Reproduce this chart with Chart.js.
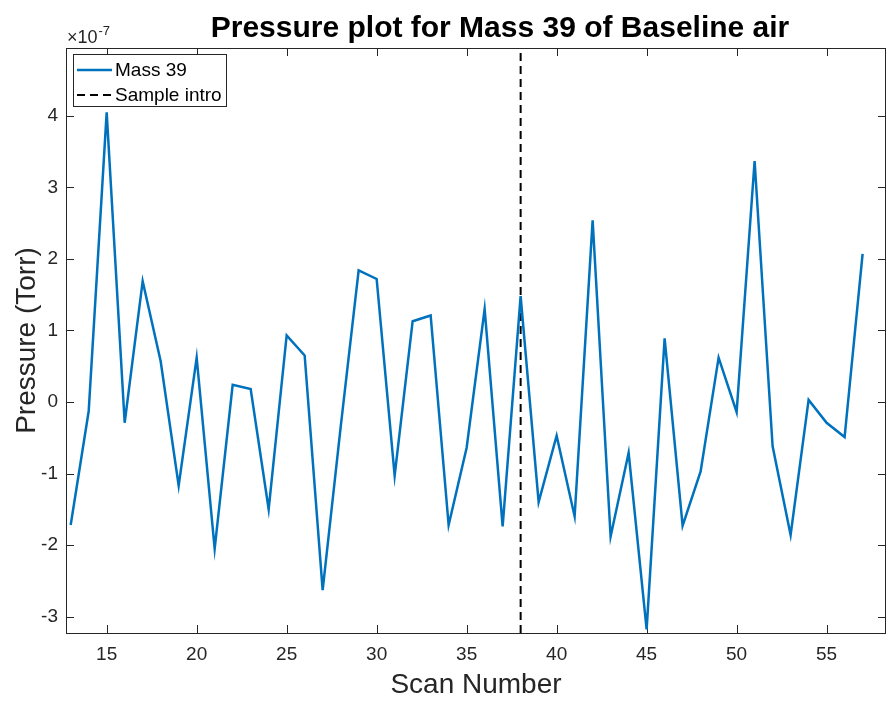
<!DOCTYPE html>
<html>
<head>
<meta charset="utf-8">
<script src="https://cdn.jsdelivr.net/npm/chart.js@4/dist/chart.umd.min.js"></script>
<style>
html,body{margin:0;padding:0;background:#ffffff;}
#wrap{width:888px;height:702px;position:relative;}
canvas{display:block;}
</style>
</head>
<body>
<div id="wrap"><canvas id="c" width="888" height="702"></canvas></div>
<script>
// ---- data (pressure in units of 1e-7 Torr) ----
const scanNumbers = [13,14,15,16,17,18,19,20,21,22,23,24,25,26,27,28,29,30,31,32,33,34,35,
                     36,37,38,39,40,41,42,43,44,45,46,47,48,49,50,51,52,53,54,55,56,57];
const mass39 = [-1.72,-0.13,4.05,-0.29,1.69,0.57,-1.17,0.62,-2.05,0.24,0.18,-1.50,0.93,0.65,-2.63,
                -0.35,1.84,1.72,-1.03,1.13,1.21,-1.72,-0.64,1.30,-1.74,1.48,-1.40,-0.47,-1.60,2.54,
                -1.88,-0.71,-3.18,0.89,-1.73,-0.97,0.62,-0.14,3.37,-0.62,-1.86,0.03,-0.29,-0.49,2.07];
const sampleIntroScan = [38];
const xTickValues = [15,20,25,30,35,40,45,50,55];
const yTickValues = [-3,-2,-1,0,1,2,3,4];
const xLimits = [12.74, 58.3];
const yLimits = [-3.23, 4.95];
const yExponentLabel = '-7';
const seriesLabels = ['Mass 39','Sample intro'];
const chartTitle = 'Pressure plot for Mass 39 of Baseline air';
const xAxisTitle = 'Scan Number';
const yAxisTitle = 'Pressure (Torr)';

const FONT = "'Liberation Sans', Arial, Helvetica, sans-serif";
const AXIS_COLOR = '#262626';
const BLUE = '#0072BD';

const massPoints = scanNumbers.map((x, i) => ({x: x, y: mass39[i]}));
const introPoints = [{x: sampleIntroScan[0], y: yLimits[0]}, {x: sampleIntroScan[0], y: yLimits[1]}];

const boxPlugin = {
  id: 'matlabBox',
  beforeDatasetsDraw(chart) {
    const {ctx, chartArea: a, scales} = chart;
    ctx.save();
    ctx.strokeStyle = AXIS_COLOR;
    ctx.lineWidth = 1;
    ctx.strokeRect(Math.round(a.left) + 0.5, Math.round(a.top) + 0.5,
                   Math.round(a.right - a.left) - 1, Math.round(a.bottom - a.top));
    const tl = 8;
    ctx.beginPath();
    scales.x.ticks.forEach(t => {
      const px = Math.round(scales.x.getPixelForValue(t.value)) + 0.5;
      ctx.moveTo(px, a.bottom); ctx.lineTo(px, a.bottom - tl);
      ctx.moveTo(px, a.top); ctx.lineTo(px, a.top + tl);
    });
    scales.y.ticks.forEach(t => {
      const py = Math.round(scales.y.getPixelForValue(t.value)) + 0.5;
      ctx.moveTo(a.left, py); ctx.lineTo(a.left + tl, py);
      ctx.moveTo(a.right, py); ctx.lineTo(a.right - tl, py);
    });
    ctx.stroke();
    ctx.restore();
  },
  afterDraw(chart) {
    const {ctx, chartArea: a} = chart;
    ctx.save();
    // Title
    ctx.fillStyle = '#000000';
    ctx.font = 'bold 30px ' + FONT;
    ctx.textAlign = 'center';
    ctx.textBaseline = 'alphabetic';
    ctx.fillText(chartTitle, 500, 37);
    // Axis titles
    ctx.fillStyle = AXIS_COLOR;
    ctx.font = '28px ' + FONT;
    ctx.fillText(xAxisTitle, (a.left + a.right) / 2, 693);
    ctx.save();
    ctx.translate(35, (a.top + a.bottom) / 2);
    ctx.rotate(-Math.PI / 2);
    ctx.fillText(yAxisTitle, 0, 0);
    ctx.restore();
    // Exponent
    ctx.textAlign = 'left';
    ctx.font = '18px ' + FONT;
    ctx.fillText('\u00D710', 67, 43);
    const w = ctx.measureText('\u00D710').width;
    ctx.font = '13px ' + FONT;
    ctx.fillText(yExponentLabel, 67 + w + 1, 35);
    // Legend
    const lx = 73.5, ly = 54.5, lw = 153, lh = 52;
    ctx.fillStyle = '#ffffff';
    ctx.fillRect(lx, ly, lw, lh);
    ctx.strokeStyle = AXIS_COLOR;
    ctx.lineWidth = 1;
    ctx.strokeRect(lx, ly, lw, lh);
    const ds = chart.data.datasets;
    const rows = [70, 95];
    ds.forEach((d, i) => {
      ctx.beginPath();
      ctx.strokeStyle = d.borderColor;
      ctx.lineWidth = d.borderWidth;
      ctx.setLineDash(d.borderDash || []);
      ctx.moveTo(77, rows[i]); ctx.lineTo(112, rows[i]);
      ctx.stroke();
      ctx.setLineDash([]);
      ctx.fillStyle = '#000000';
      ctx.font = '19px ' + FONT;
      ctx.textBaseline = 'middle';
      ctx.fillText(d.label, 115, rows[i] + 1);
    });
    ctx.restore();
  }
};

new Chart(document.getElementById('c'), {
  type: 'line',
  data: {
    datasets: [
      {label: seriesLabels[0], data: massPoints, borderColor: BLUE, borderWidth: 2.5,
       pointRadius: 0, fill: false, tension: 0},
      {label: seriesLabels[1], data: introPoints, borderColor: '#000000', borderWidth: 2,
       borderDash: [8, 5], pointRadius: 0, fill: false}
    ]
  },
  options: {
    responsive: false,
    animation: false,
    devicePixelRatio: 1,
    layout: {padding: {top: 48, right: 2, left: 0, bottom: 0}},
    plugins: {legend: {display: false}, title: {display: false}, tooltip: {enabled: false}},
    scales: {
      x: {
        type: 'linear', min: xLimits[0], max: xLimits[1],
        afterBuildTicks: s => { s.ticks = xTickValues.map(v => ({value: v})); },
        afterFit: s => { s.height = 69; },
        grid: {display: false, drawTicks: false},
        border: {display: false},
        ticks: {padding: 10, color: AXIS_COLOR, font: {family: FONT, size: 19}, maxRotation: 0,
                callback: v => String(v)}
      },
      y: {
        type: 'linear', min: yLimits[0], max: yLimits[1],
        afterBuildTicks: s => { s.ticks = yTickValues.map(v => ({value: v})); },
        afterFit: s => { s.width = 66; },
        grid: {display: false, drawTicks: false},
        border: {display: false},
        ticks: {padding: 8, color: AXIS_COLOR, font: {family: FONT, size: 19},
                callback: v => String(v)}
      }
    }
  },
  plugins: [boxPlugin]
});
</script>
</body>
</html>
